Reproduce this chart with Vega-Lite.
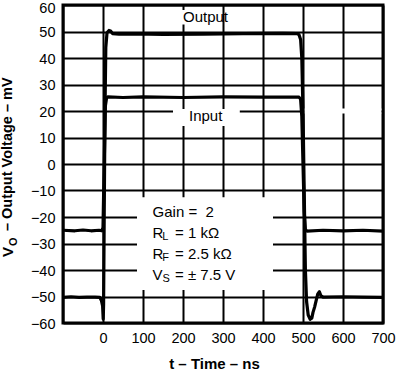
{
  "$schema": "https://vega.github.io/schema/vega-lite/v6.json",
  "width": 320,
  "height": 318,
  "autosize": {"type": "none"},
  "padding": {"left": 63, "top": 5, "right": 17, "bottom": 48},
  "background": "white",
  "config": {
    "font": "Liberation Sans",
    "view": {"stroke": "black", "strokeWidth": 3},
    "axis": {
      "grid": true, "gridColor": "black", "gridWidth": 2, "gridOpacity": 1,
      "domain": false, "ticks": false, "tickSize": 0,
      "labelColor": "black", "labelFontSize": 14.5, "labelFont": "Liberation Sans",
      "labelFlush": false, "labelOverlap": false
    }
  },
  "datasets": {
    "traces": [
      {"series": "Output", "t": -100, "v": -50.3},
      {"series": "Output", "t": -80, "v": -50.1},
      {"series": "Output", "t": -60, "v": -50.3},
      {"series": "Output", "t": -40, "v": -50.2},
      {"series": "Output", "t": -20, "v": -50.2},
      {"series": "Output", "t": -8, "v": -50.3},
      {"series": "Output", "t": -4, "v": -51.5},
      {"series": "Output", "t": -1, "v": -53.5},
      {"series": "Output", "t": 0.5, "v": -58.5},
      {"series": "Output", "t": 1.5, "v": -53},
      {"series": "Output", "t": 3, "v": -20},
      {"series": "Output", "t": 5, "v": 20},
      {"series": "Output", "t": 7, "v": 44},
      {"series": "Output", "t": 10, "v": 49.5},
      {"series": "Output", "t": 15, "v": 50.4},
      {"series": "Output", "t": 19, "v": 50.2},
      {"series": "Output", "t": 24, "v": 49.2},
      {"series": "Output", "t": 40, "v": 49},
      {"series": "Output", "t": 80, "v": 49.1},
      {"series": "Output", "t": 150, "v": 48.9},
      {"series": "Output", "t": 250, "v": 49},
      {"series": "Output", "t": 350, "v": 49.2},
      {"series": "Output", "t": 450, "v": 49.3},
      {"series": "Output", "t": 485, "v": 49.2},
      {"series": "Output", "t": 490, "v": 48.8},
      {"series": "Output", "t": 494, "v": 47},
      {"series": "Output", "t": 497, "v": 40},
      {"series": "Output", "t": 500, "v": 20},
      {"series": "Output", "t": 503, "v": -10},
      {"series": "Output", "t": 506, "v": -40},
      {"series": "Output", "t": 509, "v": -52},
      {"series": "Output", "t": 513, "v": -57},
      {"series": "Output", "t": 518, "v": -58.6},
      {"series": "Output", "t": 522, "v": -58.2},
      {"series": "Output", "t": 525, "v": -56},
      {"series": "Output", "t": 529, "v": -54},
      {"series": "Output", "t": 533, "v": -51.5},
      {"series": "Output", "t": 537, "v": -49},
      {"series": "Output", "t": 541, "v": -48.2},
      {"series": "Output", "t": 545, "v": -49.8},
      {"series": "Output", "t": 550, "v": -50.2},
      {"series": "Output", "t": 600, "v": -50.1},
      {"series": "Output", "t": 650, "v": -50.2},
      {"series": "Output", "t": 700, "v": -50.3},
      {"series": "Input", "t": -100, "v": -25},
      {"series": "Input", "t": -70, "v": -25.2},
      {"series": "Input", "t": -50, "v": -24.9},
      {"series": "Input", "t": -30, "v": -25.2},
      {"series": "Input", "t": -10, "v": -25},
      {"series": "Input", "t": -3, "v": -25.2},
      {"series": "Input", "t": 0, "v": -24},
      {"series": "Input", "t": 3, "v": 0},
      {"series": "Input", "t": 6, "v": 22},
      {"series": "Input", "t": 9, "v": 25},
      {"series": "Input", "t": 12, "v": 25.3},
      {"series": "Input", "t": 50, "v": 25.1},
      {"series": "Input", "t": 100, "v": 25.3},
      {"series": "Input", "t": 200, "v": 25.1},
      {"series": "Input", "t": 300, "v": 25.3},
      {"series": "Input", "t": 400, "v": 25.2},
      {"series": "Input", "t": 490, "v": 25.2},
      {"series": "Input", "t": 494, "v": 24.5},
      {"series": "Input", "t": 497, "v": 18},
      {"series": "Input", "t": 500, "v": 0},
      {"series": "Input", "t": 503, "v": -18},
      {"series": "Input", "t": 506, "v": -24.8},
      {"series": "Input", "t": 510, "v": -25.3},
      {"series": "Input", "t": 550, "v": -25},
      {"series": "Input", "t": 600, "v": -25.2},
      {"series": "Input", "t": 650, "v": -25},
      {"series": "Input", "t": 700, "v": -25.3}
    ],
    "masks": [
      {"t0": 85, "t1": 425, "v0": -12.5, "v1": -47.5},
      {"t0": 175, "t1": 342, "v0": 14.3, "v1": 20.8},
      {"t0": 503, "t1": 696, "v0": 19.1, "v1": 20.9},
      {"t0": 195, "t1": 297, "v0": 52.6, "v1": 58.1}
    ],
    "labels": [
      {"text": "Output", "t": 200, "v": 55.5},
      {"text": "Input", "t": 215, "v": 18.0},
      {"text": "Gain =\u00a0\u00a02", "t": 124, "v": -18.1},
      {"text": "R", "t": 124, "v": -26},
      {"text": "R", "t": 124, "v": -34},
      {"text": "V", "t": 124, "v": -41.9},
      {"text": "= 1 kΩ", "t": 180, "v": -26},
      {"text": "= 2.5 kΩ", "t": 180, "v": -34},
      {"text": "= ± 7.5 V", "t": 180, "v": -41.9}
    ],
    "subs": [
      {"text": "L", "t": 148, "v": -26},
      {"text": "F", "t": 148, "v": -34},
      {"text": "S", "t": 149, "v": -41.9}
    ]
  },
  "layer": [
    {
      "data": {"name": "masks"},
      "mark": {"type": "rect", "color": "white"},
      "encoding": {
        "x": {"field": "t0", "type": "quantitative", "scale": {"domain": [-100, 700], "nice": false, "zero": false},
          "axis": {"values": [-100, 0, 100, 200, 300, 400, 500, 600, 700], "tickCount": 20, "labelExpr": "datum.value < 0 ? '' : datum.label",
            "labelPadding": 8, "title": "t – Time – ns", "titleFontSize": 15, "titleFontWeight": "bold", "titleColor": "black",
            "titleX": 151, "titleY": 33, "titleBaseline": "top"}},
        "x2": {"field": "t1"},
        "y": {"field": "v0", "type": "quantitative", "scale": {"domain": [-60, 60], "nice": false, "zero": false},
          "axis": {"values": [-60, -50, -40, -30, -20, -10, 0, 10, 20, 30, 40, 50, 60], "tickCount": 20, "labelPadding": 8, "title": null,
            "labelOffset": {"condition": {"test": "datum.value == 60", "value": 3}, "value": 1}}},
        "y2": {"field": "v1"}
      }
    },
    {
      "data": {"name": "traces"},
      "mark": {"type": "line", "color": "black", "strokeWidth": 3.2, "clip": true, "strokeJoin": "round"},
      "encoding": {
        "x": {"field": "t", "type": "quantitative"},
        "y": {"field": "v", "type": "quantitative"},
        "detail": {"field": "series"}
      }
    },
    {
      "data": {"name": "labels"},
      "mark": {"type": "text", "align": "left", "baseline": "middle", "fontSize": 15, "color": "black"},
      "encoding": {
        "x": {"field": "t", "type": "quantitative"},
        "y": {"field": "v", "type": "quantitative"},
        "text": {"field": "text"}
      }
    },
    {
      "data": {"name": "subs"},
      "mark": {"type": "text", "align": "left", "baseline": "middle", "fontSize": 11, "dy": 4, "color": "black"},
      "encoding": {
        "x": {"field": "t", "type": "quantitative"},
        "y": {"field": "v", "type": "quantitative"},
        "text": {"field": "text"}
      }
    },
    {
      "data": {"values": [{"text": "V", "t": -238.75, "v": -35.1}]},
      "mark": {"type": "text", "align": "left", "baseline": "middle", "angle": 270, "fontSize": 15, "fontWeight": "bold", "color": "black"},
      "encoding": {
        "x": {"field": "t", "type": "quantitative"},
        "y": {"field": "v", "type": "quantitative"},
        "text": {"field": "text"}
      }
    },
    {
      "data": {"values": [{"text": "O", "t": -222.5, "v": -30.9}]},
      "mark": {"type": "text", "align": "left", "baseline": "middle", "angle": 270, "fontSize": 11, "fontWeight": "bold", "color": "black"},
      "encoding": {
        "x": {"field": "t", "type": "quantitative"},
        "y": {"field": "v", "type": "quantitative"},
        "text": {"field": "text"}
      }
    },
    {
      "data": {"values": [{"text": "– Output Voltage – mV", "t": -238.75, "v": -25.3}]},
      "mark": {"type": "text", "align": "left", "baseline": "middle", "angle": 270, "fontSize": 14.5, "fontWeight": "bold", "color": "black"},
      "encoding": {
        "x": {"field": "t", "type": "quantitative"},
        "y": {"field": "v", "type": "quantitative"},
        "text": {"field": "text"}
      }
    }
  ]
}
